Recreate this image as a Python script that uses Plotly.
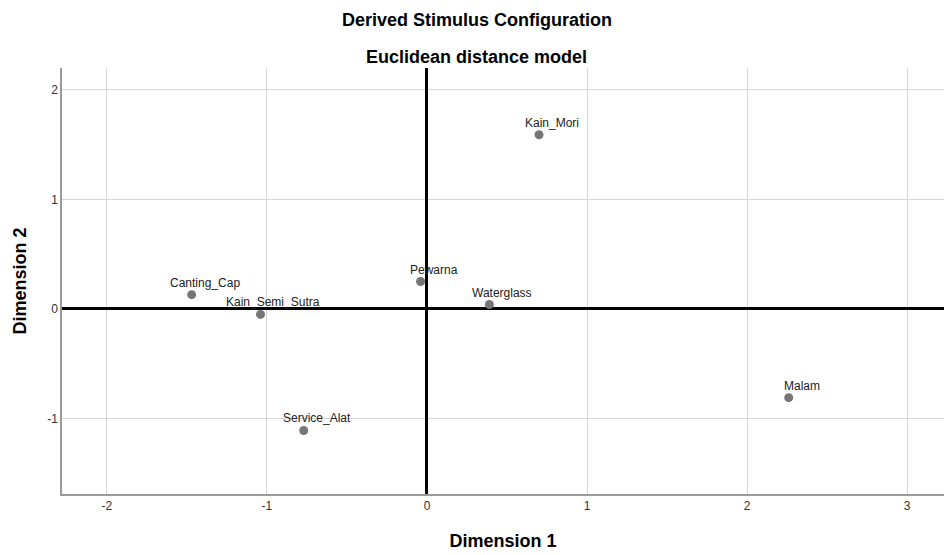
import plotly.graph_objects as go

# Stimulus coordinates (derived configuration, Euclidean distance model)
stimuli = ["Kain_Mori", "Pewarna", "Waterglass", "Canting_Cap",
           "Kain_Semi_Sutra", "Service_Alat", "Malam"]
dim1 = [0.70, -0.04, 0.39, -1.47, -1.04, -0.77, 2.26]
dim2 = [1.59, 0.25, 0.04, 0.13, -0.05, -1.11, -0.81]

x_ticks = [-2, -1, 0, 1, 2, 3]
x_tick_labels = ["-2", "-1", "0", "1", "2", "3"]
y_ticks = [-1, 0, 1, 2]
y_tick_labels = ["-1", "0", "1", "2"]

FONT = "Liberation Sans, Arial, sans-serif"

fig = go.Figure()
fig.add_trace(go.Scatter(
    x=dim1, y=dim2, mode="markers",
    marker=dict(size=9, color="#767676"),
    hoverinfo="text", text=stimuli, showlegend=False,
))

# Point labels sit just above and a little to the right of each marker
for name, xv, yv in zip(stimuli, dim1, dim2):
    fig.add_annotation(x=xv, y=yv, text=name, showarrow=False,
                       xshift=13, yshift=12,
                       font=dict(family=FONT, size=12, color="#222222"))

# Two-line heading
fig.add_annotation(xref="paper", yref="paper", x=0.4705, y=1, yanchor="middle",
                   yshift=48, text="<b>Derived Stimulus Configuration</b>",
                   showarrow=False, font=dict(family=FONT, size=18, color="#000000"))
fig.add_annotation(xref="paper", yref="paper", x=0.4705, y=1, yanchor="middle",
                   yshift=11, text="<b>Euclidean distance model</b>",
                   showarrow=False, font=dict(family=FONT, size=18, color="#000000"))

axis_common = dict(
    showgrid=True, gridcolor="#d6d6d6", gridwidth=1,
    zeroline=True, zerolinecolor="#000000", zerolinewidth=3,
    showline=True, linecolor="#9a9a9a", linewidth=1.5, mirror=False,
    ticks="", tickfont=dict(family=FONT, size=12, color="#333333"),
)

fig.update_layout(
    width=944, height=555,
    margin=dict(l=62, r=0, t=68, b=61),
    paper_bgcolor="white", plot_bgcolor="white",
    xaxis=dict(range=[-2.28, 3.23], tickvals=x_ticks, ticktext=x_tick_labels,
               title=dict(text="<b>Dimension 1</b>", standoff=22,
                          font=dict(family=FONT, size=18, color="#000000")),
               **axis_common),
    yaxis=dict(range=[-1.69, 2.2], tickvals=y_ticks, ticktext=y_tick_labels,
               title=dict(text="<b>Dimension 2</b>", standoff=16,
                          font=dict(family=FONT, size=18, color="#000000")),
               **axis_common),
)

fig.write_html("out.html")
